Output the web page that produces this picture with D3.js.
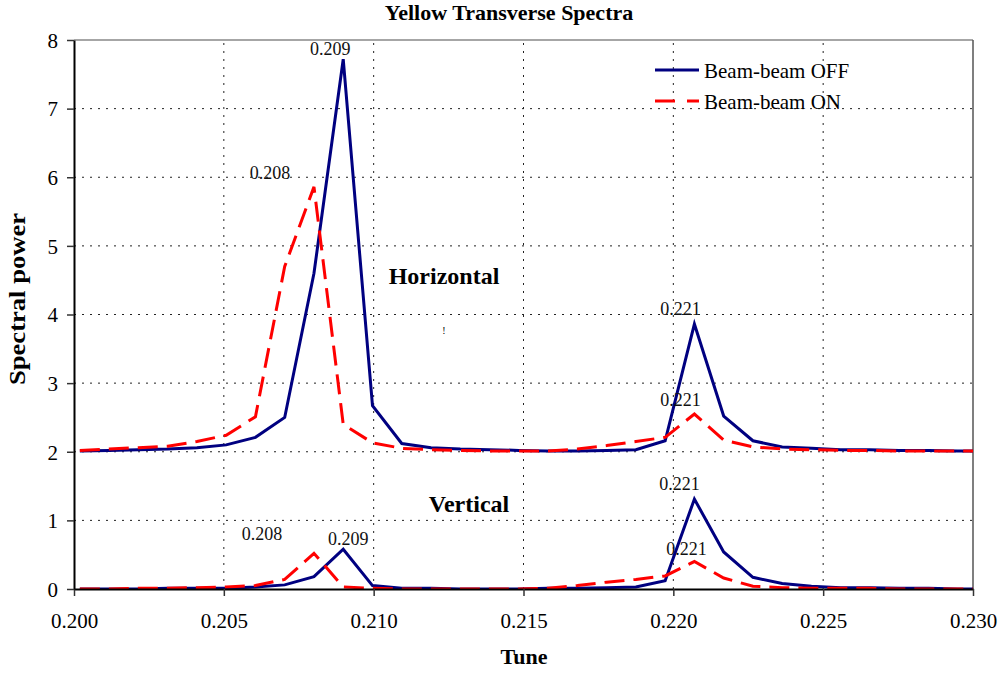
<!DOCTYPE html>
<html><head><meta charset="utf-8">
<script src="https://cdn.jsdelivr.net/npm/d3@7"></script>
<style>
body{margin:0;background:#fff;}
</style></head>
<body><svg id="chart" width="1003" height="673" font-family="Liberation Serif, DejaVu Serif, serif"></svg>
<script>
// Tune bins (x values)
const tune = [0.200195,0.201172,0.202148,0.203125,0.204102,0.205078,0.206055,0.207031,0.208008,0.208984,
  0.209961,0.210938,0.211914,0.212891,0.213867,0.214844,0.215820,0.216797,0.217773,0.218750,
  0.219727,0.220703,0.221680,0.222656,0.223633,0.224609,0.225586,0.226563,0.227539,0.228516,
  0.229492,0.230469];
// Horizontal spectra
const hOff = [2.01,2.02,2.03,2.04,2.06,2.10,2.21,2.50,4.60,7.72,
  2.67,2.12,2.06,2.04,2.03,2.02,2.01,2.01,2.02,2.03,
  2.16,3.86,2.52,2.16,2.07,2.05,2.03,2.03,2.02,2.02,2.01,2.01];
const hOn = [2.02,2.04,2.06,2.08,2.15,2.24,2.51,4.70,5.86,2.40,
  2.13,2.05,2.03,2.02,2.01,2.01,2.01,2.04,2.09,2.15,
  2.21,2.55,2.17,2.07,2.04,2.03,2.02,2.02,2.01,2.01,2.01,2.01];
// Vertical spectra
const vOff = [0.00,0.00,0.00,0.01,0.01,0.01,0.03,0.06,0.18,0.58,
  0.05,0.01,0.01,0.00,0.00,0.00,0.01,0.01,0.02,0.03,
  0.12,1.31,0.54,0.17,0.08,0.04,0.02,0.02,0.01,0.01,0.00,0.00];
const vOn = [0.00,0.00,0.01,0.01,0.02,0.03,0.05,0.14,0.52,0.03,
  0.01,0.00,0.00,0.00,0.00,0.00,0.01,0.05,0.10,0.14,
  0.19,0.40,0.16,0.04,0.02,0.01,0.01,0.01,0.00,0.00,0.00,0.00];
const xTicks = [0.200,0.205,0.210,0.215,0.220,0.225,0.230];
const yTicks = [0,1,2,3,4,5,6,7,8];
const seriesNames = ["Beam-beam OFF","Beam-beam ON"];
// Peak labels: [series, index, text]
const peakLabels = [
  ["hOff",9,"0.209"],["hOn",8,"0.208"],["hOff",21,"0.221"],["hOn",21,"0.221"],
  ["vOff",21,"0.221"],["vOn",21,"0.221"],["vOn",8,"0.208"],["vOff",9,"0.209"]
];
const labelOffsets = [[-13,-4],[-44,-8],[-14,-9],[-14,-8],[-15,-9],[-8,-7],[-52,-13],[5,-4]];

const FONT = "'Liberation Serif','DejaVu Serif',serif";
const svg = d3.select("#chart");
const m = {l:74, r:1003-973, t:40, b:673-589};
const W = 1003, H = 673;
const x = d3.scaleLinear().domain([0.200,0.230]).range([m.l, W-m.r]);
const y = d3.scaleLinear().domain([0,8]).range([H-m.b, m.t]);

const blue = "#000080", red = "#ff0000";

// grid
const g = svg.append("g");
g.selectAll(".hg").data(yTicks.filter(d=>d>0&&d<8)).join("line")
  .attr("x1",x(0.200)).attr("x2",x(0.230)).attr("y1",d=>y(d)).attr("y2",d=>y(d))
  .attr("stroke","#222").attr("stroke-width",1).attr("stroke-dasharray","2,6");
g.selectAll(".vg").data(xTicks.filter(d=>d>0.2001&&d<0.2299)).join("line")
  .attr("y1",y(0)).attr("y2",y(8)).attr("x1",d=>x(d)).attr("x2",d=>x(d))
  .attr("stroke","#222").attr("stroke-width",1).attr("stroke-dasharray","2,6");

// frame
svg.append("line").attr("x1",x(0.200)).attr("x2",x(0.230)).attr("y1",y(8)).attr("y2",y(8)).attr("stroke","#888").attr("stroke-width",1.5);
svg.append("line").attr("x1",x(0.230)).attr("x2",x(0.230)).attr("y1",y(8)).attr("y2",y(0)).attr("stroke","#555").attr("stroke-width",1.5);

// clip
svg.append("clipPath").attr("id","clip").append("rect")
  .attr("x",x(0.200)).attr("y",y(8)-5).attr("width",x(0.230)-x(0.200)).attr("height",y(0)-y(8)+5);

const line = d3.line().x((d,i)=>x(tune[i])).y(d=>y(d));
const lines = svg.append("g").attr("clip-path","url(#clip)");
const series = {hOff,hOn,vOff,vOn};
[["hOff",blue,null],["vOff",blue,null],["hOn",red,"20,9"],["vOn",red,"20,9"]].forEach(([k,c,da])=>{
  lines.append("path").attr("d",line(series[k])).attr("fill","none")
    .attr("stroke",c).attr("stroke-width",3).attr("stroke-linejoin","miter")
    .attr("stroke-dasharray",da);
});

// axes
const xAxis = d3.axisBottom(x).tickValues(xTicks).tickFormat(d3.format(".3f")).tickSize(7).tickSizeOuter(0);
const yAxis = d3.axisLeft(y).tickValues(yTicks).tickFormat(d3.format("d")).tickSize(7).tickSizeOuter(0);
const gx = svg.append("g").attr("transform",`translate(0,${y(0)})`).call(xAxis);
const gy = svg.append("g").attr("transform",`translate(${x(0.200)},0)`).call(yAxis);
[gx,gy].forEach(a=>{
  a.attr("font-family",FONT).attr("font-size",21);
  a.select(".domain").attr("stroke","#000").attr("stroke-width",2);
  a.selectAll(".tick line").attr("stroke","#333").attr("stroke-width",1.5);
  a.selectAll("text").style("font-family",FONT).style("font-size","21px").attr("fill","#000");
});
gx.selectAll(".tick text").attr("dy","0").attr("y",39);
gy.selectAll(".tick text").attr("x",-16).attr("dy","0.35em");

function txt(xp,yp,s,size,bold,anchor){
  return svg.append("text").attr("x",xp).attr("y",yp).attr("text-anchor",anchor||"middle")
    .style("font-family",FONT).style("font-size",size+"px").style("font-weight",bold?"bold":"normal")
    .attr("fill","#000").text(s);
}
// titles
txt(509,20,"Yellow Transverse Spectra",22,true);
txt(524,664,"Tune",22,true);
txt(0,0,"Spectral power",23,true).attr("transform","translate(25,299) rotate(-90)")
  .attr("textLength",172).attr("lengthAdjust","spacingAndGlyphs");

// annotations
txt(444,284,"Horizontal",24,true);
txt(469,512,"Vertical",24,true);
txt(444,334,"!",10,false);

// peak labels
peakLabels.forEach(([k,i,t],j)=>{
  txt(x(tune[i])+labelOffsets[j][0], y(series[k][i])+labelOffsets[j][1], t, 18, false).attr("fill","#111");
});

// legend
seriesNames.forEach((n,i)=>{
  const yy = 70 + i*31;
  svg.append("line").attr("x1",655).attr("x2",699).attr("y1",yy).attr("y2",yy)
    .attr("stroke",i?red:blue).attr("stroke-width",3).attr("stroke-dasharray",i?"20,12":null);
  txt(704,yy+8,n,21,false,"start");
});
</script></body></html>
